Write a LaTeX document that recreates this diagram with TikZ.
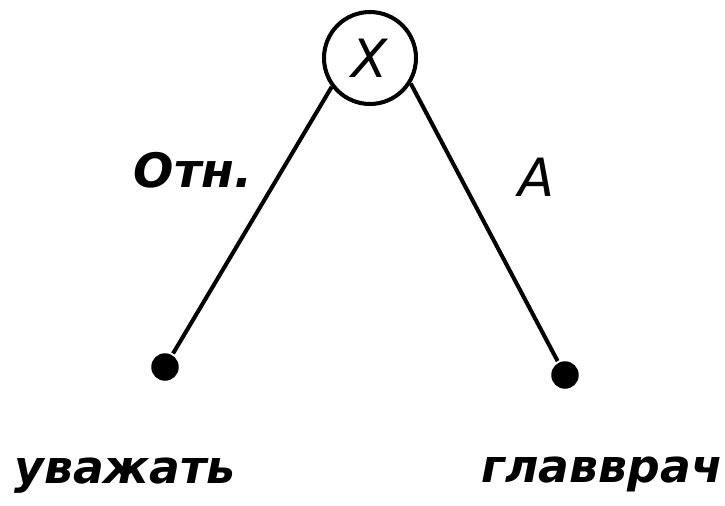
\documentclass[tikz,border=0pt]{standalone}
\usepackage{fontspec}
\setmainfont{DejaVu Sans}
\newcommand{\sz}[1]{\fontsize{#1}{#1}\selectfont\itshape}

\begin{document}
\begin{tikzpicture}[x=0.02cm,y=-0.02cm,line width=2.3pt]
  \useasboundingbox (0,0) rectangle (725,505);
  \tikzset{dot/.style={circle,fill,inner sep=0pt,minimum size=0.55cm}}
  \node[draw,circle,inner sep=0pt,minimum size=1.84cm,font=\sz{30}] (X) at (370,58) {X};
  \node[dot] (u) at (165,367) {};
  \node[dot] (g) at (565,375) {};
  \draw (X.217) -- (u);
  \draw (X.328) -- (g);
  \node[font=\sz{27}\bfseries] (rel) at (193,170) {Отн.};
  \node[font=\sz{30}] (a)   at (537,177) {А};
  \node[font=\sz{26}\bfseries] (w1)  at (125,476) {уважать};
  \node[font=\sz{26}\bfseries] (w2)  at (602,474) {главврач};
\end{tikzpicture}
\end{document}
